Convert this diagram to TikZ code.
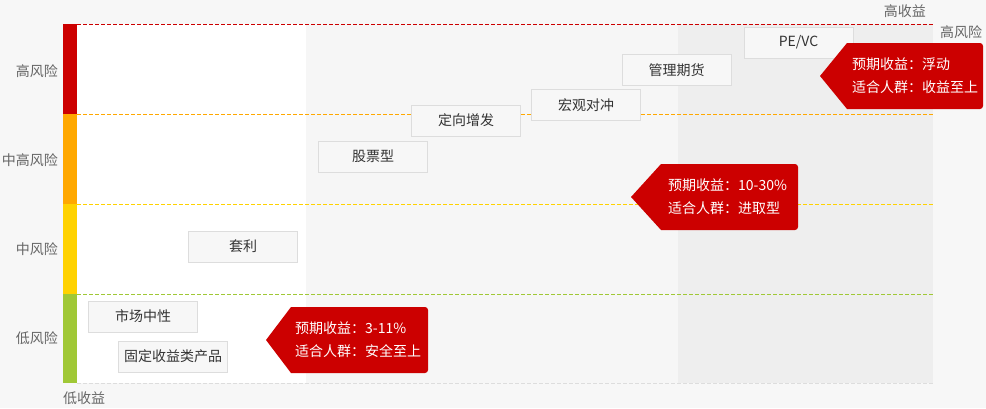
\documentclass[tikz,border=0pt]{standalone}
\usepackage{fontspec}
\setmainfont{Noto Sans CJK SC}
\definecolor{bgc}{HTML}{F7F7F7}
\definecolor{midc}{HTML}{F6F6F6}
\definecolor{darkc}{HTML}{EEEEEE}
\definecolor{redc}{HTML}{CC0000}
\definecolor{orac}{HTML}{FFA800}
\definecolor{yelc}{HTML}{FFD200}
\definecolor{grnc}{HTML}{A0C836}
\definecolor{boxb}{HTML}{DDDDDD}
\definecolor{labc}{HTML}{666666}
\definecolor{txtc}{HTML}{333333}
\begin{document}
\begin{tikzpicture}[x=1pt,y=-1pt,
  pbox/.style={draw=boxb,line width=1pt,fill=bgc,minimum width=109pt,minimum height=31pt,inner sep=0pt,text=txtc,font=\fontsize{14}{16}\selectfont},
  risklab/.style={text=labc,font=\fontsize{14}{16}\selectfont,inner sep=0pt,anchor=east},
  axlab/.style={text=labc,font=\fontsize{14}{16}\selectfont,inner sep=0pt},
  calltxt/.style={text=white,font=\fontsize{14}{23}\selectfont,align=left,inner sep=0pt,anchor=west},
  dline/.style={line width=1pt,dash pattern=on 4pt off 2pt}]
\useasboundingbox (0,0) rectangle (986,408);
\fill[bgc] (0,0) rectangle (986,408);
% regions
\fill[white] (77,24) rectangle (306,383);
\fill[midc] (306,24) rectangle (678,383);
\fill[darkc] (678,24) rectangle (933,383);
% color bar
\fill[redc] (63,24) rectangle (77,114);
\fill[orac] (63,114) rectangle (77,204);
\fill[yelc] (63,204) rectangle (77,294);
\fill[grnc] (63,294) rectangle (77,383);
% dashed lines
\coordinate (r1) at (77,24.5);  \coordinate (r2) at (933,24.5);
\coordinate (o1) at (77,114.5); \coordinate (o2) at (933,114.5);
\coordinate (y1) at (77,204.5); \coordinate (y2) at (933,204.5);
\coordinate (g1) at (77,294.5); \coordinate (g2) at (933,294.5);
\coordinate (b1) at (77,383.5); \coordinate (b2) at (933,383.5);
\draw[dline,draw=redc] (r1) -- (r2);
\draw[dline,draw=orac] (o1) -- (o2);
\draw[dline,draw=yelc] (y1) -- (y2);
\draw[dline,draw=grnc] (g1) -- (g2);
\draw[dline,draw=boxb] (b1) -- (b2);
% risk labels
\node[risklab] (lh) at (58,71) {高风险};
\node[risklab] (lmh) at (58,160) {中高风险};
\node[risklab] (lm) at (58,249) {中风险};
\node[risklab] (ll) at (58,338) {低风险};
\node[axlab,anchor=east] (hy) at (926,11) {高收益};
\node[axlab,anchor=west] (hr) at (940,32) {高风险};
\node[axlab,anchor=west] (ly) at (63,398) {低收益};
% product boxes
\node[pbox] (pevc) at (798.5,42.5) {PE/VC};
\node[pbox] (glqh) at (676.5,70) {管理期货};
\node[pbox] (hgdc) at (586,105) {宏观对冲};
\node[pbox] (dxzf) at (466,120.5) {定向增发};
\node[pbox] (gpx) at (373,156.5) {股票型};
\node[pbox] (tl) at (243,246.5) {套利};
\node[pbox] (sczx) at (143,316.5) {市场中性};
\node[pbox] (gdsy) at (173,356.5) {固定收益类产品};
% callouts
\fill[redc] (820,76) -- (847,43) {[rounded corners=3pt] -- (983,43) -- (983,109)} -- (847,109) -- cycle;
\node[calltxt] (ch) at (852,76) {预期收益：浮动\\适合人群：收益至上};
\fill[redc] (631,197) -- (661,164) {[rounded corners=3pt] -- (798,164) -- (798,230)} -- (661,230) -- cycle;
\node[calltxt] (cm) at (668,197) {预期收益：10-30\%\\适合人群：进取型};
\fill[redc] (266,340) -- (291,307) {[rounded corners=3pt] -- (428,307) -- (428,373)} -- (291,373) -- cycle;
\node[calltxt] (cl) at (295,340) {预期收益：3-11\%\\适合人群：安全至上};
\end{tikzpicture}
\end{document}
